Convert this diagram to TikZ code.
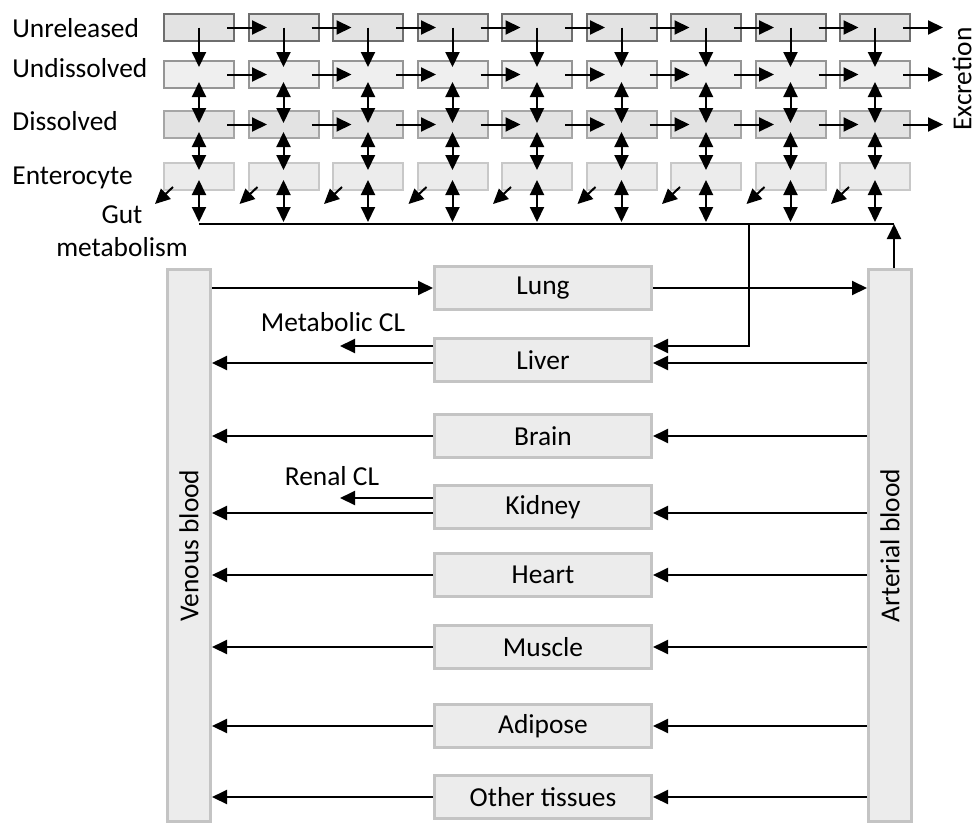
\documentclass[tikz,border=0pt]{standalone}
\usepackage{fontspec}
\setmainfont{Carlito}
\usepackage{tikz}
\usetikzlibrary{arrows.meta, calc, positioning}
\definecolor{unrelfill}{HTML}{E3E3E3}
\definecolor{unreldraw}{HTML}{6E6E6E}
\definecolor{undisfill}{HTML}{EFEFEF}
\definecolor{undisdraw}{HTML}{959595}
\definecolor{disfill}{HTML}{E3E3E3}
\definecolor{disdraw}{HTML}{A6A6A6}
\definecolor{entfill}{HTML}{ECECEC}
\definecolor{entdraw}{HTML}{C8C8C8}
\definecolor{organfill}{HTML}{ECECEC}
\definecolor{organdraw}{HTML}{C4C4C4}
\tikzstyle{cell} = [rectangle, minimum width=35pt, minimum height=13.5pt, inner sep=0pt, line width=1pt]
\tikzstyle{unrel} = [cell, fill=unrelfill, draw=unreldraw]
\tikzstyle{undis} = [cell, fill=undisfill, draw=undisdraw]
\tikzstyle{dis} = [cell, fill=disfill, draw=disdraw]
\tikzstyle{entero} = [cell, fill=entfill, draw=entdraw]
\tikzstyle{organ} = [rectangle, line width=1.5pt, minimum width=108.5pt, minimum height=21.5pt, inner sep=0pt, text centered, fill=organfill, draw=organdraw]
\tikzstyle{blood} = [rectangle, line width=1.5pt, minimum width=21.5pt, minimum height=276pt, inner sep=0pt, fill=organfill, draw=organdraw]
\tikzstyle{arrow} = [line width=1pt,->,>={Triangle[length=7.5pt,width=7pt]}]
\tikzstyle{dblarrow} = [line width=1pt,<->,>={Triangle[length=7.5pt,width=7pt]}]
\tikzstyle{wire} = [line width=1pt]

\begin{document}
\begin{tikzpicture}[x=0.5pt, y=-0.5pt, every node/.style={font=\fontsize{13.7pt}{16.5pt}\selectfont}]
\useasboundingbox (0,0) rectangle (978,825);

% intestine compartments
\foreach \i in {1,...,9}{
  \pgfmathsetmacro\cx{199+84.5*(\i-1)}
  \node (ur\i) [unrel] at (\cx,27.5) {};
  \node (ud\i) [undis] at (\cx,74.5) {};
  \node (ds\i) [dis] at (\cx,124.5) {};
  \node (ent\i) [entero] at (\cx,176.5) {};
}
\node (lblur) [anchor=base west, inner sep=0pt] at (12,37) {Unreleased};
\node (lblud) [anchor=base west, inner sep=0pt] at (12,77) {Undissolved};
\node (lblds) [anchor=base west, inner sep=0pt] at (12,130) {Dissolved};
\node (lblent) [anchor=base west, inner sep=0pt] at (12,184) {Enterocyte};
\node (gutmet) [align=center] at (122,231.5) {Gut\\metabolism};
\node (excr) [inner sep=0pt] at (962,79) {\rotatebox{90}{Excretion}};

\coordinate (busL) at (199,224);
\coordinate (busR) at (894,224);
\coordinate (portal) at (749,224);
\coordinate (exur) at (943,27.5);
\coordinate (exud) at (943,74.5);
\coordinate (exds) at (943,124.5);

\foreach \i [evaluate=\i as \j using int(\i+1)] in {1,...,8}{
  \draw [arrow] ($(ur\i.center)+(28,0)$) -- ($(ur\j.center)+(-16.5,0)$);
  \draw [arrow] ($(ud\i.center)+(28,0)$) -- ($(ud\j.center)+(-16.5,0)$);
  \draw [arrow] ($(ds\i.center)+(28,0)$) -- ($(ds\j.center)+(-16.5,0)$);
}
\draw [arrow] ($(ur9.center)+(28,0)$) -- (exur);
\draw [arrow] ($(ud9.center)+(28,0)$) -- (exud);
\draw [arrow] ($(ds9.center)+(28,0)$) -- (exds);

\foreach \i in {1,...,9}{
  \draw [arrow] (ur\i.center) -- ($(ud\i.center)+(0,-7.5)$);
  \draw [dblarrow] ($(ud\i.center)+(0,7.5)$) -- ($(ds\i.center)+(0,-1.5)$);
  \draw [dblarrow] ($(ds\i.center)+(0,7.5)$) -- ($(ent\i.center)+(0,-6.5)$);
  \draw [dblarrow] ($(ent\i.center)+(0,3.5)$) -- ($(ent\i.center |- busL)+(0,-2)$);
  \draw [arrow] ($(ent\i.south west)+(10,-4)$) -- ($(ent\i.south west)+(-8,13)$);
}
\draw [wire] (busL) -- (busR);

% blood and organs
\node (vb) [blood] at (189,545.5) {\rotatebox{90}{Venous blood}};
\node (ab) [blood] at (890,545.5) {\rotatebox{90}{Arterial blood}};
\node (lung) [organ] at (543,288) {Lung};
\node (liver) [organ, below = 13pt of lung] {Liver};
\node (brain) [organ, below = 15pt of liver] {Brain};
\node (kidney) [organ, below = 12.5pt of brain] {Kidney};
\node (heart) [organ, below = 11pt of kidney] {Heart};
\node (muscle) [organ, below = 13pt of heart] {Muscle};
\node (adipose) [organ, below = 16.5pt of muscle] {Adipose};
\node (other) [organ, below = 12.5pt of adipose] {Other tissues};

\node (metcl) at (333,322) {Metabolic CL};
\node (rencl) at (332,476) {Renal CL};
\coordinate (metend) at (340,346);
\coordinate (renend) at (340,498);

\draw [arrow] (vb.east |- lung) -- (lung);
\draw [arrow] (lung) -- (lung -| ab.west);
\foreach \o/\s in {liver/-1.5,brain/0,kidney/-3,heart/0,muscle/0,adipose/0,other/0}{
  \path ([yshift=\s pt]\o.west) coordinate (ow) ([yshift=\s pt]\o.east) coordinate (oe);
  \draw [arrow] (ow) -- (vb.east |- ow);
  \draw [arrow] (ab.west |- oe) -- (oe);
}
\draw [arrow] (liver.west |- metend) -- (metend);
\draw [arrow] (kidney.west |- renend) -- (renend);
\draw [arrow] (portal) |- (liver.east |- metend);
\draw [arrow] (busR |- ab.north) -- (busR);
\end{tikzpicture}
\end{document}
